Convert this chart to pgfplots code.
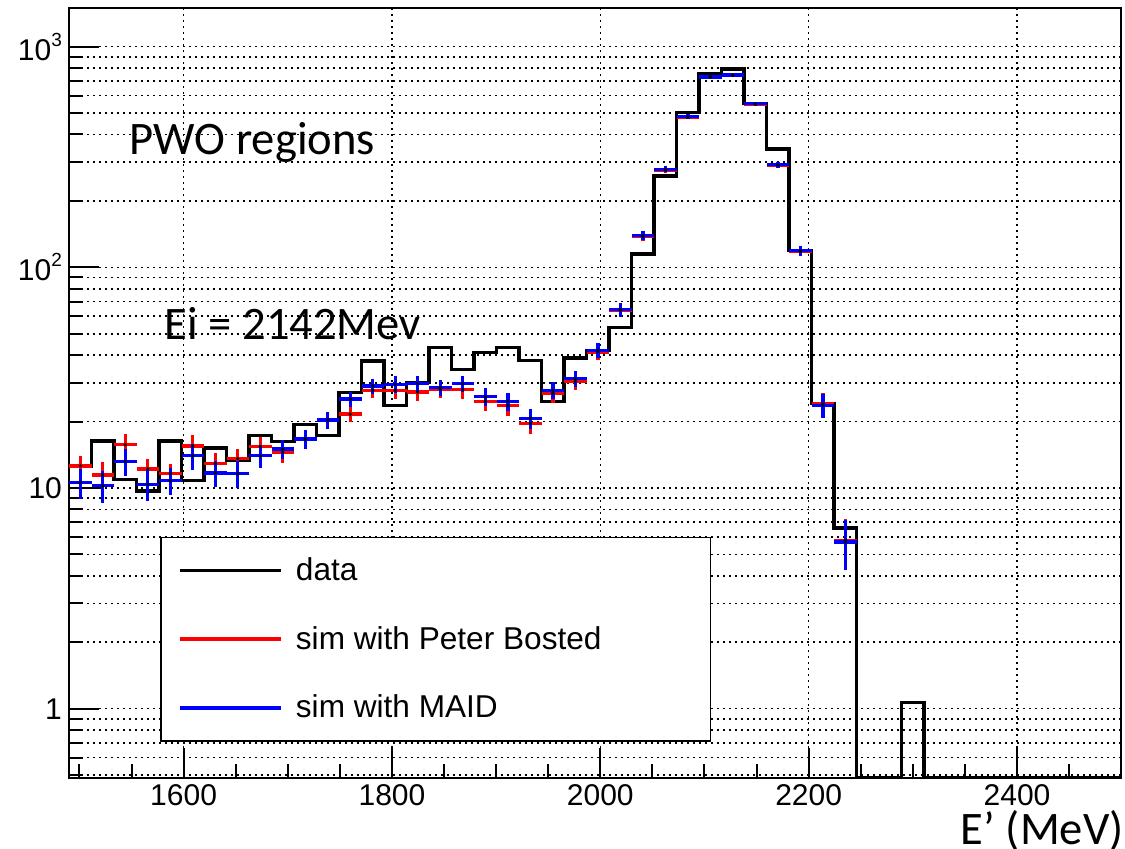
\documentclass[border=0pt]{standalone}
\usepackage{fontspec}
\setmainfont{Liberation Sans}
\newfontfamily\carlito{Carlito}
\usepackage{pgfplots}
\pgfplotsset{compat=1.18}
\usepackage{pgfplotstable}

% data histogram: left bin edges, contents (zero bins at the axis minimum)
\pgfplotstableread{
x y
1490.0 12.6
1511.6 16.3
1533.2 10.9
1554.8 9.7
1576.4 16.3
1598.0 10.8
1619.6 15.2
1641.2 13.4
1662.8 17.3
1684.4 16.2
1706.0 19.4
1727.6 17.3
1749.2 27.1
1770.8 37.7
1792.4 23.6
1814.0 30.0
1835.6 43.4
1857.2 34.4
1878.8 41.1
1900.4 43.3
1922.0 37.8
1943.6 24.6
1965.2 38.8
1986.8 42.1
2008.4 53.5
2030.0 114.7
2051.6 259
2073.2 502
2094.8 751
2116.4 791
2138.0 551
2159.6 344
2181.2 119
2202.8 24.1
2224.4 6.6
2246.0 0.4867
2267.6 0.4867
2289.2 1.07
2310.8 0.4867
2500.0 0.4867
}\datatable

\pgfplotstableread{
x y e
1500.8 12.6 1.4
1522.4 11.45 1.6
1544.0 15.7 1.85
1565.6 12.2 1.35
1587.2 11.6 1.3
1608.8 15.5 1.8
1630.4 12.9 1.5
1652.0 13.6 1.45
1673.6 15.4 1.65
1695.2 14.5 1.5
1716.8 16.6 1.65
1738.4 20.3 1.8
1760.0 21.6 1.75
1781.6 27.7 2.2
1803.2 27.7 2.5
1824.8 27.2 2.5
1846.4 28.0 2.5
1868.0 27.9 2.5
1889.6 24.7 2.4
1911.2 23.6 2.3
1932.8 19.6 2.1
1954.4 26.9 2.5
1976.0 30.4 2.7
1997.6 41.4 3.2
2019.2 64.0 4.5
2040.8 138 6.5
2062.4 276 9
2084.0 480 12
2105.6 728 15
2127.2 740 15
2148.8 549 13
2170.4 290 9
2192.0 118 6
2213.6 24.0 2.9
2235.2 5.8 1.45
}\redtable

\pgfplotstableread{
x y e
1500.8 10.57 1.65
1522.4 10.24 1.65
1544.0 13.2 1.9
1565.6 10.4 1.65
1587.2 10.8 1.5
1608.8 14.0 1.9
1630.4 11.7 1.55
1652.0 11.6 1.65
1673.6 14.0 1.65
1695.2 15.0 1.5
1716.8 16.7 1.65
1738.4 20.3 1.8
1760.0 25.3 1.95
1781.6 29.0 2.2
1803.2 29.5 2.6
1824.8 29.7 2.6
1846.4 28.5 2.5
1868.0 29.7 2.6
1889.6 25.9 2.4
1911.2 24.7 2.3
1932.8 20.7 2.1
1954.4 27.7 2.5
1976.0 31.3 2.7
1997.6 42.1 3.2
2019.2 64.3 4.5
2040.8 139 6.5
2062.4 278 9
2084.0 482 12
2105.6 730 15
2127.2 743 15
2148.8 551 13
2170.4 292 9
2192.0 119 6
2213.6 23.7 2.9
2235.2 5.69 1.45
}\bluetable

\begin{document}
\begin{tikzpicture}
\useasboundingbox (0pt,0pt) rectangle (562.5pt,424pt);
\begin{axis}[
  at={(34.5pt,35.15pt)}, anchor=south west,
  scale only axis, width=526.1pt, height=384.7pt,
  ymode=log,
  xmin=1490, xmax=2500, ymin=0.4867, ymax=1492,
  xtick={1600,1800,2000,2200,2400},
  xticklabels={1600,1800,2000,2200,2400},
  minor xtick={1500,1550,...,2500},
  ytick={1,10,100,1000},
  yticklabels={1,10,{10\raisebox{7pt}{\fontsize{9.5}{10}\selectfont 2}},{10\raisebox{7pt}{\fontsize{9.5}{10}\selectfont 3}}},
  minor ytick={0.5,0.6,0.7,0.8,0.9,2,3,4,5,6,7,8,9,20,30,40,50,60,70,80,90,200,300,400,500,600,700,800,900},
  tick pos=left, tick align=inside,
  major tick length=15pt, minor tick length=7pt,
  major tick style={line width=1pt, black},
  minor tick style={line width=1pt, black},
  xmajorgrids=true, xminorgrids=false,
  ymajorgrids=true, yminorgrids=true,
  major grid style={black, line width=0.8pt, dash pattern=on 1pt off 2pt},
  minor grid style={black, line width=0.8pt, dash pattern=on 1pt off 2pt},
  axis line style={line width=1pt, black},
  tick label style={font=\fontsize{15}{18}\selectfont, black},
  legend image code/.code={\draw[#1] (0pt,0pt) -- (50.5pt,0pt);},
  legend cell align=left,
  legend style={at={(axis description cs:0.0869,0.3134)}, anchor=north west,
    draw=black, line width=0.7pt, fill=white,
    inner xsep=8.5pt, inner ysep=8pt, row sep=17.5pt,
    font=\fontsize{15.8}{18}\selectfont,
    /tikz/every odd column/.append style={column sep=4.7pt}},
]
\addlegendimage{black, line width=1.7pt}
\addlegendentry{data}
\addlegendimage{red, line width=1.7pt}
\addlegendentry{sim with Peter Bosted\hspace*{44pt}}
\addlegendimage{blue, line width=1.7pt}
\addlegendentry{sim with MAID}

\addplot[const plot, black, line width=1.7pt, forget plot] table[x=x, y=y] {\datatable};

\addplot[only marks, forget plot, mark=*, mark size=0.6pt, mark options={black, fill=black},
  error bars/.cd, y dir=both, y explicit, x dir=both, x fixed=10.8, error mark=none,
  error bar style={line width=1.7pt, red}]
  table[x=x, y=y, y error=e] {\redtable};

\addplot[only marks, forget plot, mark=*, mark size=0.6pt, mark options={black, fill=black},
  error bars/.cd, y dir=both, y explicit, x dir=both, x fixed=10.8, error mark=none,
  error bar style={line width=1.7pt, blue}]
  table[x=x, y=y, y error=e] {\bluetable};
\end{axis}
\node[anchor=base west, inner sep=0pt, font=\carlito\fontsize{23.3}{28}\selectfont] at (64.7pt,346.5pt) {PWO regions};
\node[anchor=base west, inner sep=0pt, font=\carlito\fontsize{23.3}{28}\selectfont] at (82.2pt,254.35pt) {Ei = 2142Mev};
\node[anchor=base east, inner sep=0pt, font=\carlito\fontsize{23.3}{28}\selectfont] at (562pt,2pt) {E’ (MeV)};
\end{tikzpicture}
\end{document}
